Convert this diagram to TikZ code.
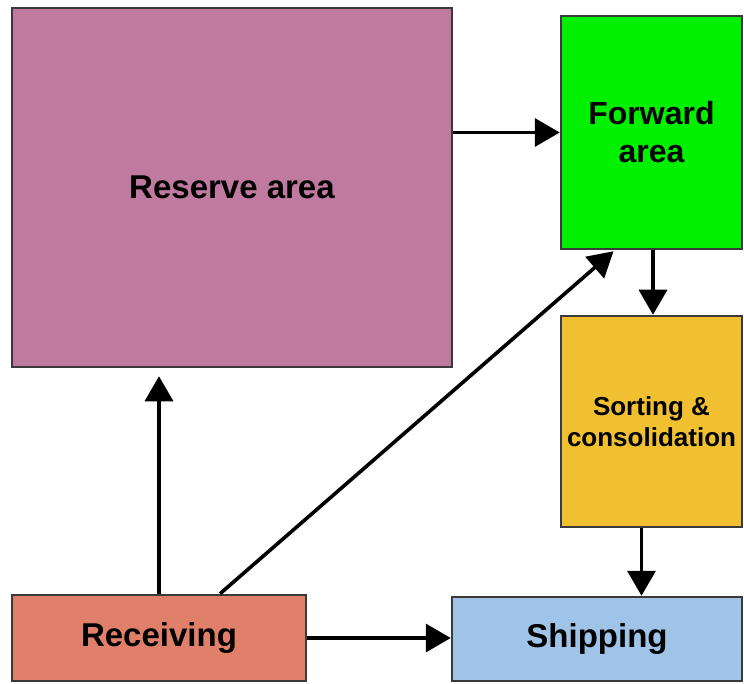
\documentclass[tikz,border=0pt]{standalone}
\usepackage{fontspec}
\setmainfont{Liberation Sans}
\usetikzlibrary{arrows.meta}

\definecolor{reservecol}{HTML}{C0799F}
\definecolor{forwardcol}{HTML}{00F000}
\definecolor{sortcol}{HTML}{F0C030}
\definecolor{shipcol}{HTML}{A0C4E8}
\definecolor{receivecol}{HTML}{E07F6A}
\definecolor{edgecol}{HTML}{3A3A3A}

\tikzset{
  area/.style={draw=edgecol, line width=2.5pt, inner sep=0pt, align=center,
    font=\bfseries\fontsize{33}{38}\selectfont},
  smalltext/.style={font=\bfseries\fontsize{26}{31}\selectfont},
  flow/.style={draw=black, line width=3.6pt,
    -{Triangle[length=25pt,width=28pt]}},
}

\begin{document}
\begin{tikzpicture}[x=1pt,y=-1pt]
  \useasboundingbox (0,0) rectangle (744,684);

  % storage and handling areas
  \node[area, fill=reservecol, minimum width=440pt, minimum height=359pt]
    (res) at (232,187.5) {Reserve area};
  \node[area, fill=forwardcol, minimum width=181pt, minimum height=233pt,
        font=\bfseries\fontsize{32}{38}\selectfont]
    (fwd) at (651.5,132.5) {Forward\\area};
  \node[area, smalltext, fill=sortcol, minimum width=181pt, minimum height=211pt]
    (sort) at (651.5,421.5) {Sorting \&\\consolidation};
  \node[area, fill=shipcol, minimum width=290pt, minimum height=84pt]
    (ship) at (597,639) {Shipping};
  \node[area, fill=receivecol, minimum width=294pt, minimum height=86pt]
    (rec) at (159,638) {Receiving};

  % material flows
  \draw[flow] (res.east |- fwd.center) -- (fwd.west);
  \draw[flow] ([xshift=1.5pt]fwd.south) -- ([xshift=1.5pt]sort.north);
  \draw[flow] ([xshift=-10pt]sort.south) -- ([xshift=-10pt]sort.south |- ship.north);
  \draw[flow] (rec.east) -- (rec.east -| ship.west);
  \draw[flow] (rec.north) -- ([yshift=-8pt]rec.north |- res.south);
  \draw[flow] ([xshift=61pt]rec.north) -- ([xshift=-38pt,yshift=-1pt]fwd.south);
\end{tikzpicture}
\end{document}
